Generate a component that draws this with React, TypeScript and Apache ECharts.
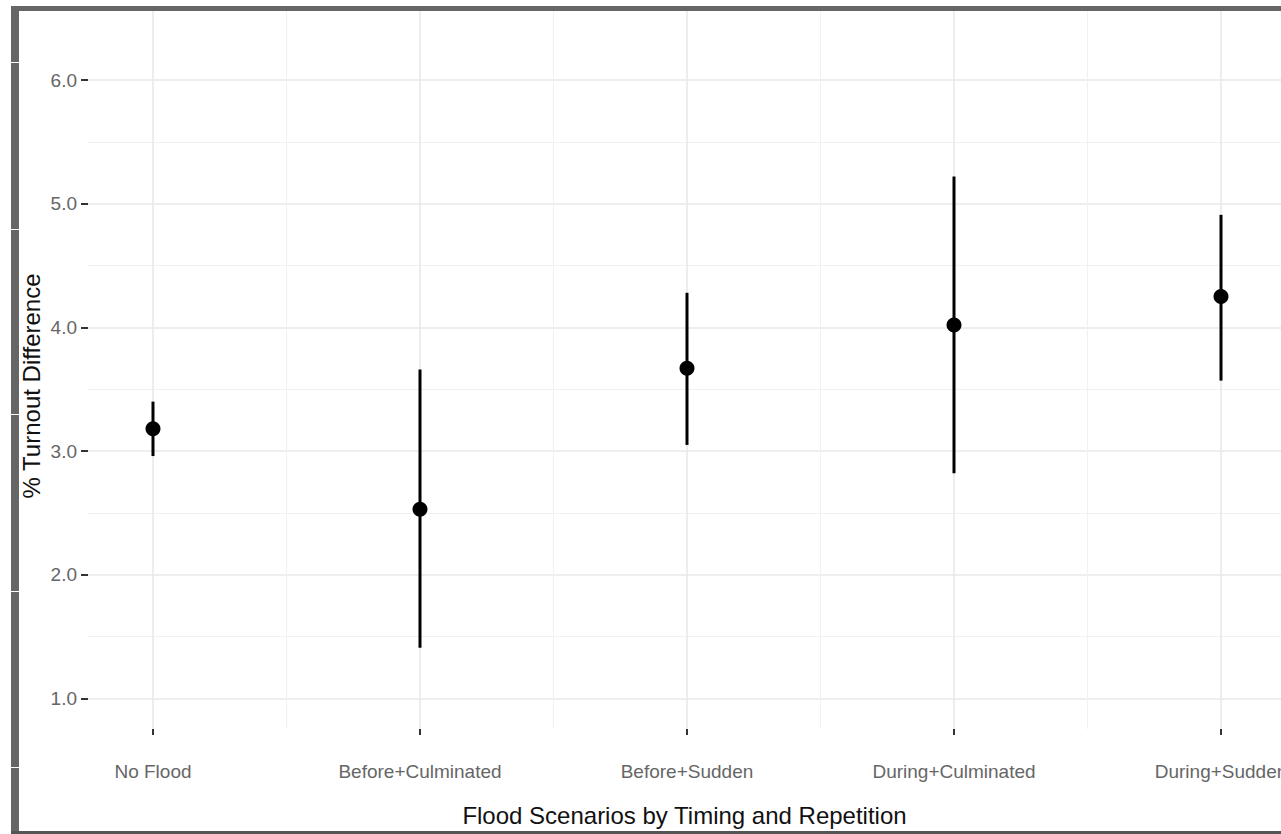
import React, { useEffect, useRef } from "react";
import * as echarts from "echarts";

const categories = ["No Flood", "Before+Culminated", "Before+Sudden", "During+Culminated", "During+Sudden"];
const estimates = [3.18, 2.53, 3.67, 4.02, 4.25];
const lowerCI = [2.96, 1.41, 3.05, 2.82, 3.57];
const upperCI = [3.40, 3.66, 4.28, 5.22, 4.91];
const yTicks = [1, 2, 3, 4, 5, 6];
const yMinor = [1.5, 2.5, 3.5, 4.5, 5.5];
const xPositions = [0, 1, 2, 3, 4];
const xMinor = [0.5, 1.5, 2.5, 3.5];
const xTitle = "Flood Scenarios by Timing and Repetition";
const yTitle = "% Turnout Difference";

const FONT = "'Liberation Sans', Arial, Helvetica, sans-serif";

export default function App() {
  const ref = useRef<HTMLDivElement>(null);
  useEffect(() => {
    if (!ref.current) return;
    const chart = echarts.init(ref.current, undefined, { renderer: "svg" });
    const major = { color: "#e9e9e9", width: 1.6, type: "solid" };
    const minor = { color: "#f1f1f1", width: 1.1, type: "solid" };
    const gridLines = [
      ...yTicks.map((v) => ({ yAxis: v, lineStyle: major })),
      ...yMinor.map((v) => ({ yAxis: v, lineStyle: minor })),
      ...xPositions.map((v) => ({ xAxis: v, lineStyle: major })),
      ...xMinor.map((v) => ({ xAxis: v, lineStyle: minor })),
    ];
    chart.setOption({
      animation: false,
      backgroundColor: "#ffffff",
      textStyle: { fontFamily: FONT },
      grid: {
        left: 88,
        right: 0,
        top: 11,
        bottom: 105,
        containLabel: false,
        outerBoundsMode: "none",
      },
      xAxis: {
        type: "value",
        min: -0.2434,
        max: 4.2247,
        splitLine: { show: false },
        axisLine: { show: false, onZero: false },
        axisTick: {
          show: true,
          customValues: xPositions,
          length: 6,
          lineStyle: { color: "#333", width: 2 },
        },
        axisLabel: {
          customValues: xPositions,
          formatter: (v: number) => categories[Math.round(v)] ?? "",
          color: "#666",
          fontSize: 19,
          fontFamily: FONT,
          margin: 33,
        },
        name: xTitle,
        nameLocation: "middle",
        nameGap: 74,
        nameTextStyle: { color: "#111", fontSize: 24, fontFamily: FONT },
      },
      yAxis: {
        type: "value",
        min: 0.7534,
        max: 6.558,
        splitLine: { show: false },
        axisLine: { show: false, onZero: false },
        axisTick: {
          show: true,
          customValues: yTicks,
          length: 7,
          lineStyle: { color: "#333", width: 2 },
        },
        axisLabel: {
          customValues: yTicks,
          formatter: (v: number) => v.toFixed(1),
          color: "#666",
          fontSize: 19,
          fontFamily: FONT,
          margin: 11,
        },
      },
      series: [
        {
          type: "line",
          data: [],
          z: 0,
          silent: true,
          markLine: {
            z: 0,
            silent: true,
            symbol: ["none", "none"],
            label: { show: false },
            data: gridLines,
          },
        },
        {
          type: "custom",
          z: 3,
          data: xPositions.map((x, i) => [x, lowerCI[i], upperCI[i]]),
          renderItem: (params: any, api: any) => {
            const x = api.value(0);
            const p1 = api.coord([x, api.value(1)]);
            const p2 = api.coord([x, api.value(2)]);
            return {
              type: "line",
              shape: { x1: p1[0], y1: p1[1], x2: p2[0], y2: p2[1] },
              style: { stroke: "#000", lineWidth: 3 },
            };
          },
        },
        {
          type: "scatter",
          z: 4,
          symbol: "circle",
          symbolSize: 15,
          itemStyle: { color: "#000", opacity: 1 },
          data: xPositions.map((x, i) => [x, estimates[i]]),
        },
      ],
      graphic: [
        {
          type: "text",
          x: 31,
          y: 386,
          rotation: Math.PI / 2,
          style: {
            text: yTitle,
            fontSize: 24,
            fontFamily: FONT,
            fill: "#111",
            align: "center",
            verticalAlign: "middle",
          },
        },
        { type: "rect", shape: { x: 11, y: 6, width: 1270, height: 5 }, style: { fill: "#666" } },
        { type: "rect", shape: { x: 11, y: 6, width: 8, height: 828 }, style: { fill: "#666" } },
        { type: "rect", shape: { x: 11, y: 831, width: 1270, height: 3 }, style: { fill: "#555" } },
        { type: "rect", shape: { x: 11, y: 62, width: 8, height: 1 }, style: { fill: "#fff" } },
        { type: "rect", shape: { x: 11, y: 229, width: 8, height: 1 }, style: { fill: "#fff" } },
        { type: "rect", shape: { x: 11, y: 414, width: 8, height: 1 }, style: { fill: "#fff" } },
        { type: "rect", shape: { x: 11, y: 591, width: 8, height: 1 }, style: { fill: "#fff" } },
        { type: "rect", shape: { x: 11, y: 767, width: 8, height: 1 }, style: { fill: "#fff" } },
      ],
    });
    return () => chart.dispose();
  }, []);
  return (
    <div
      ref={ref}
      style={{ position: "absolute", left: 0, top: 0, width: 1281, height: 834 }}
    />
  );
}
